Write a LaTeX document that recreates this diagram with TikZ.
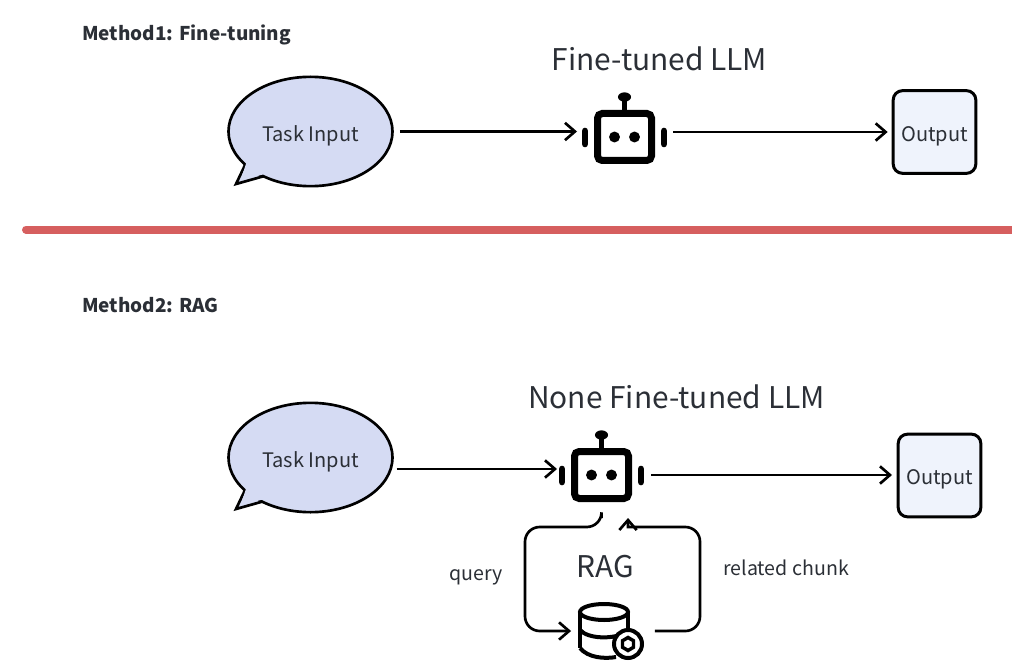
\documentclass[tikz,border=0pt]{standalone}
\usepackage{fontspec}
\setmainfont{Noto Sans CJK SC}
\usetikzlibrary{arrows.meta}
\usetikzlibrary{shapes,positioning}

\definecolor{inkgray}{HTML}{2B2F36}
\definecolor{bubblefill}{HTML}{D5DBF3}
\definecolor{outputfill}{HTML}{EFF3FC}
\definecolor{dividerred}{HTML}{D65F5F}

\tikzset{
  flow/.style={line width=2pt, -{Straight Barb[length=7.5pt,width=13pt,line width=2pt]}},
  bubble/.style={ellipse, draw=black, fill=bubblefill, line width=2pt, minimum width=123pt, minimum height=82pt, inner sep=0pt, text=inkgray, text height=15.5pt, text depth=0pt, font=\fontsize{15}{18}\selectfont},
  outbox/.style={rectangle, draw=black, fill=outputfill, line width=2.25pt, rounded corners=7pt, minimum size=62pt, inner sep=0pt, text=inkgray, text height=14pt, text depth=0pt, font=\fontsize{15}{18}\selectfont},
  title/.style={text=inkgray, inner sep=0pt, font=\fontsize{22.4}{27}\selectfont},
  method/.style={text=inkgray, inner sep=0pt, anchor=west, font=\fontsize{14.2}{18}\selectfont\bfseries},
  edgelabel/.style={text=inkgray, inner sep=0pt, font=\fontsize{14.7}{18}\selectfont},
  pics/robot/.style={code={
      % the body with its eyes
      \node[draw=black, line width=5.25pt, rounded corners=3.5pt, minimum width=40.5pt, minimum height=35.25pt, inner sep=0pt] (-body) at (0,0) {};
      \fill (-10,0) circle [radius=4.1pt];
      \fill (10,0) circle [radius=4.1pt];
      % the antenna
      \draw[line width=3.6pt] (0,-27) -- (0,-38);
      \fill (0,-40) ellipse [x radius=4.9pt, y radius=3.5pt];
      % the side bars
      \draw[line width=5pt, line cap=round] (-39.5,-6) -- (-39.5,7);
      \draw[line width=5pt, line cap=round] (39.5,-6) -- (39.5,7);
  }},
}

\begin{document}
\begin{tikzpicture}[x=0.75pt,y=-0.75pt]
  \useasboundingbox (0,0) rectangle (1012,670);

  % the first method
  \node[method] (method1) at (82,35) {Method1: Fine-tuning};
  \node[title] (title1) at (659.5,59) {Fine-tuned LLM};
  \filldraw[draw=black, fill=bubblefill, line width=2pt, line join=miter] (246,163) -- (236,184) -- (268,175);
  \node[bubble] (task1) at (310.5,131.5) {Task Input};
  \fill[bubblefill] (247,161) -- (240.5,180) -- (263,174.5) -- (263,170) -- cycle;
  \pic (bot1) at (624.5,137) {robot};
  \node[outbox] (out1) at (934.5,132) {Output};
  \draw[flow] ([xshift=4.5pt]task1.east) -- ([xshift=-12.75pt]bot1-body.west |- task1.east);
  \draw[flow] ([xshift=13.5pt,yshift=3.75pt]bot1-body.east) -- ([xshift=-3pt]out1.west);

  % the divider
  \draw[dividerred, line width=6pt, line cap=round] (26,229.5) -- (1030,229.5);

  % the second method
  \node[method] (method2) at (82,305) {Method2: RAG};
  \node[title] (title2) at (676.5,397) {None Fine-tuned LLM};
  \filldraw[draw=black, fill=bubblefill, line width=2pt, line join=miter] (246,488) -- (236,509) -- (268,500);
  \node[bubble] (task2) at (310.5,457.5) {Task Input};
  \fill[bubblefill] (247,486) -- (240.5,505) -- (263,499.5) -- (263,495) -- cycle;
  \pic (bot2) at (601.5,475) {robot};
  \node[outbox] (out2) at (939.5,475.5) {Output};
  \draw[flow] ([xshift=2pt,yshift=-8.625pt]task2.east) -- ([xshift=-10.5pt,yshift=4.5pt]bot2-body.west);
  \draw[flow] ([xshift=14.25pt]bot2-body.east) -- ([xshift=-3.5pt]out2.west |- bot2-body.east);

  % the database with its gear
  \node[inner sep=0pt, minimum width=36pt, minimum height=40pt] (db) at (604,631) {};
  \begin{scope}[line width=3pt]
    \draw (604,612) ellipse [x radius=18pt, y radius=6pt];
    \draw (580,612) -- (580,648);
    \draw (628,612) -- (628,632);
    \draw (580,630) .. controls (588,639) and (612,639) .. (622,634);
    \draw (580,648) .. controls (588,658) and (605,659) .. (616,657);
    \draw[fill=white] (628,644) circle [radius=10.5pt];
    \draw[line width=2.6pt] (628,637.5) -- (633.5,640.75) -- (633.5,647.25) -- (628,650.5) -- (622.5,647.25) -- (622.5,640.75) -- cycle;
  \end{scope}

  % the retrieval loop
  \node[title] (rag) at (605,567) {RAG};
  \draw[flow, rounded corners=11pt, shorten <=12pt, shorten >=6.5pt] (bot2-body.south) -- ++(0,25) -- (525,527) -- (525,631) -- (db.west);
  \draw[flow, rounded corners=11pt, shorten <=20pt] (db.east) -- (700,631) -- (700,527) [sharp corners] -- (628,527) -- ([xshift=19.9pt,yshift=-12pt]bot2-body.south);
  \node[edgelabel] (query) at (476,577) {query};
  \node[edgelabel] (chunk) at (786,568) {related chunk};
\end{tikzpicture}
\end{document}
